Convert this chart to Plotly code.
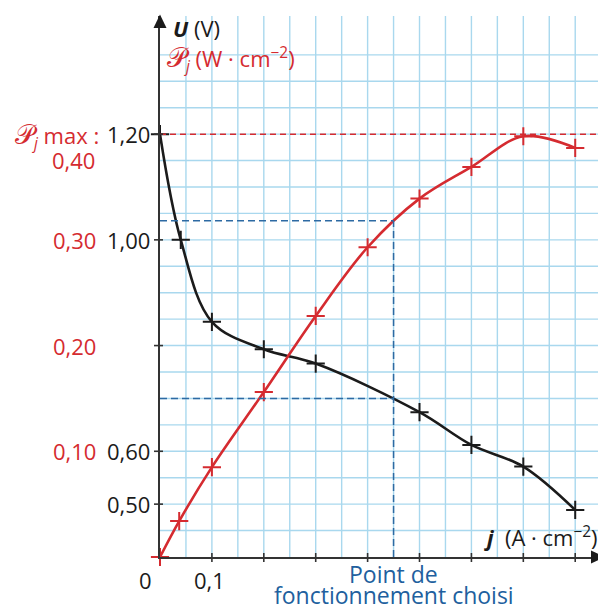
import plotly.graph_objects as go

# ---------------- data ----------------
j_U = [0.00, 0.04, 0.10, 0.20, 0.30, 0.50, 0.60, 0.70, 0.80]
U_V = [1.200, 1.000, 0.845, 0.793, 0.766, 0.674, 0.612, 0.571, 0.489]

j_P = [0.00, 0.037, 0.10, 0.20, 0.30, 0.40, 0.50, 0.60, 0.70, 0.80]
P_W = [0.000, 0.034, 0.085, 0.156, 0.228, 0.293, 0.339, 0.369, 0.398, 0.387]

j_op = 0.45      # point de fonctionnement choisi
U_op = 0.70
P_op = 0.318
P_max = 0.40

j_ticks = [0.1, 0.2, 0.3, 0.4, 0.5, 0.6, 0.7, 0.8]
U_tick_vals = [1.20, 1.00, 0.80, 0.60, 0.50]
U_tick_text = ["1,20", "1,00", "", "0,60", "0,50"]
P_tick_vals = [0.30, 0.20, 0.10]
P_tick_text = ["0,30", "0,20", "0,10"]

# ---------------- style ----------------
RED = "#d52b30"
BLACK = "#1b1b1b"
BLUE = "#2d6aa3"
BLUE_TXT = "#215f9e"
GRID = "#a9d8ee"
AXIS = "#333333"
FONT = "Open Sans"
FS = 22
SCRIPT_P = "<span style='font-size:27px'>𝒫</span>"

X_RANGE = [0, 0.8593]
Y_RANGE = [0.4, 1.4235]
Y2_RANGE = [0, (Y_RANGE[1] - Y_RANGE[0]) / 2]

fig = go.Figure()

fig.add_trace(go.Scatter(
    x=j_U, y=U_V, mode="lines+markers", yaxis="y",
    line=dict(color=BLACK, width=2.6, shape="spline", smoothing=1.0),
    marker=dict(symbol="cross-thin", size=13, line=dict(color=BLACK, width=2)),
    cliponaxis=False, showlegend=False))

fig.add_trace(go.Scatter(
    x=j_P, y=P_W, mode="lines+markers", yaxis="y2",
    line=dict(color=RED, width=2.6, shape="spline", smoothing=1.0),
    marker=dict(symbol="cross-thin", size=13, line=dict(color=RED, width=2)),
    cliponaxis=False, showlegend=False))

shapes = []
# grid
for k in range(1, 18):
    shapes.append(dict(type="line", xref="x", yref="paper", x0=0.05 * k, x1=0.05 * k,
                       y0=0, y1=1, line=dict(color=GRID, width=1.4), layer="below"))
for k in range(1, 20):
    yv = 0.4 + 0.05 * k
    shapes.append(dict(type="line", xref="paper", yref="y", x0=0, x1=1, y0=yv, y1=yv,
                       line=dict(color=GRID, width=1.4), layer="below"))

# dashed guides
shapes.append(dict(type="line", xref="paper", yref="y2", x0=0, x1=1, y0=P_max, y1=P_max,
                   line=dict(color=RED, width=1.5, dash="6px,4px")))
shapes.append(dict(type="line", xref="x", yref="y2", x0=0, x1=j_op, y0=P_op, y1=P_op,
                   line=dict(color=BLUE, width=1.5, dash="7px,4px")))
shapes.append(dict(type="line", xref="x", yref="y", x0=0, x1=j_op, y0=U_op, y1=U_op,
                   line=dict(color=BLUE, width=1.5, dash="7px,4px")))
shapes.append(dict(type="line", xref="x", yref="y2", x0=j_op, x1=j_op, y0=0, y1=P_op,
                   line=dict(color=BLUE, width=1.5, dash="7px,4px")))

# ticks crossing axes
for t in j_ticks:
    shapes.append(dict(type="line", xref="x", yref="paper", x0=t, x1=t,
                       ysizemode="pixel", yanchor=0, y0=-5, y1=4,
                       line=dict(color=AXIS, width=1.6)))
for t in U_tick_vals:
    shapes.append(dict(type="line", xref="paper", yref="y", y0=t, y1=t,
                       xsizemode="pixel", xanchor=0, x0=-6, x1=3,
                       line=dict(color=AXIS, width=1.6)))

# arrows
shapes.append(dict(type="path", xref="paper", yref="paper", xsizemode="pixel", ysizemode="pixel",
                   xanchor=0, yanchor=1, path="M -6.5,-12 L 0,1.5 L 6.5,-12 Z",
                   fillcolor=BLACK, line=dict(width=0)))
shapes.append(dict(type="path", xref="paper", yref="paper", xsizemode="pixel", ysizemode="pixel",
                   xanchor=1, yanchor=0, path="M -15,6.5 L -1,0 L -15,-6.5 Z",
                   fillcolor=BLACK, line=dict(width=0)))


def A(**kw):
    kw.setdefault("showarrow", False)
    kw.setdefault("yanchor", "middle")
    return kw


ann = []
# axis titles
ann.append(A(xref="paper", yref="paper", x=0, y=1, xshift=11, yshift=-12, xanchor="left",
             text="<b><i>U</i></b> (V)", font=dict(size=FS, color=BLACK, family=FONT)))
ann.append(A(xref="paper", yref="paper", x=0, y=1, xshift=5, yshift=-41, xanchor="left",
             text=SCRIPT_P + "<sub><i>j</i></sub> (W · cm<sup>−2</sup>)",
             font=dict(size=FS, color=RED, family=FONT)))
ann.append(A(xref="paper", yref="paper", x=1, y=0, xshift=-6, yshift=21, xanchor="right",
             text="<b><i>j</i></b>  (A · cm<sup>−2</sup>)",
             font=dict(size=FS, color=BLACK, family=FONT)))

# U tick labels (black)
for v, t in zip(U_tick_vals, U_tick_text):
    if t:
        ann.append(A(xref="paper", yref="y", x=0, y=v, xshift=-8, xanchor="right", text=t,
                     font=dict(size=FS, color=BLACK, family=FONT)))
# P tick labels (red)
for v, t in zip(P_tick_vals, P_tick_text):
    ann.append(A(xref="paper", yref="y2", x=0, y=v, xshift=-62, xanchor="right", text=t,
                 font=dict(size=FS, color=RED, family=FONT)))
ann.append(A(xref="paper", yref="y2", x=0, y=P_max, xshift=-59, xanchor="right",
             text=SCRIPT_P + "<sub><i>j</i></sub> max :",
             font=dict(size=FS, color=RED, family=FONT)))
ann.append(A(xref="paper", yref="y2", x=0, y=P_max, xshift=-87, yshift=-26, xanchor="center",
             text="0,40", font=dict(size=FS, color=RED, family=FONT)))

# j tick labels
ann.append(A(xref="x", yref="paper", x=0, y=0, xshift=-15, yshift=-23, xanchor="center",
             text="0", font=dict(size=FS, color=BLACK, family=FONT)))
ann.append(A(xref="x", yref="paper", x=0.1, y=0, xshift=-2, yshift=-23, xanchor="center",
             text="0,1", font=dict(size=FS, color=BLACK, family=FONT)))

# operating point label
ann.append(A(xref="x", yref="paper", x=j_op, y=0, yshift=-17, xanchor="center",
             text="Point de", font=dict(size=23, color=BLUE_TXT, family=FONT)))
ann.append(A(xref="x", yref="paper", x=j_op, y=0, yshift=-38, xanchor="center",
             text="fonctionnement choisi", font=dict(size=23, color=BLUE_TXT, family=FONT)))

# page body has an 8px margin: the figure is sized so the plot lands on the reference pixels
fig.update_layout(
    width=598, height=600,
    margin=dict(l=152, r=0, t=8, b=51, pad=0),
    paper_bgcolor="white", plot_bgcolor="white",
    font=dict(family=FONT, size=FS, color=BLACK),
    xaxis=dict(range=X_RANGE, showgrid=False, zeroline=False, showticklabels=False,
               ticks="", showline=True, linecolor=AXIS, linewidth=2, fixedrange=True),
    yaxis=dict(range=Y_RANGE, showgrid=False, zeroline=False, showticklabels=False,
               ticks="", showline=True, linecolor=AXIS, linewidth=2, fixedrange=True),
    yaxis2=dict(range=Y2_RANGE, overlaying="y", side="left", showgrid=False, zeroline=False,
                showticklabels=False, ticks="", showline=False, fixedrange=True),
    shapes=shapes, annotations=ann,
)

fig.write_html("out.html")
